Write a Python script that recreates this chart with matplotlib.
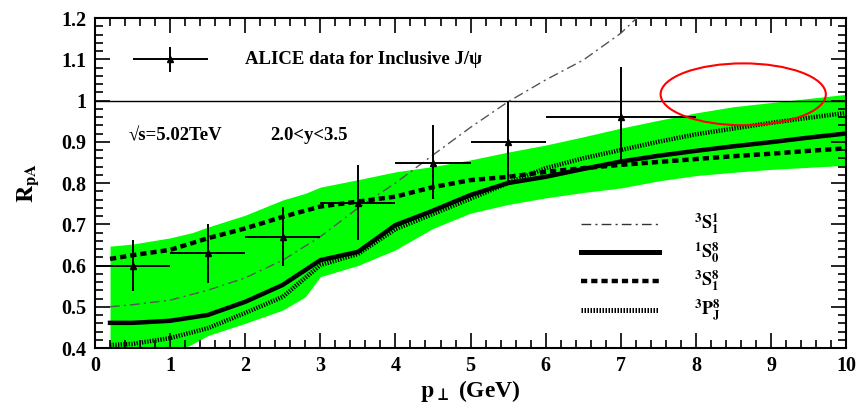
import numpy as np
import matplotlib
matplotlib.use("Agg")
import matplotlib.pyplot as plt
from matplotlib.patches import Ellipse
from matplotlib.ticker import MultipleLocator

plt.rcParams['font.family'] = ['Liberation Serif', 'DejaVu Serif']
plt.rcParams['font.weight'] = 'bold'
plt.rcParams['mathtext.fontset'] = 'stix'

# theory curves
pt = [0.2, 0.5, 1, 1.5, 2, 2.5, 3, 3.5, 4, 4.5, 5, 5.5, 6, 6.5, 7, 7.5, 8, 8.5, 9, 9.5, 10]
s10_8 = [0.461, 0.461, 0.466, 0.48, 0.512, 0.553, 0.613, 0.633, 0.698, 0.733, 0.771, 0.80,
         0.815, 0.834, 0.852, 0.866, 0.878, 0.889, 0.899, 0.91, 0.92]
s31_8 = [0.616, 0.625, 0.638, 0.666, 0.69, 0.718, 0.743, 0.755, 0.767, 0.79, 0.807, 0.815,
         0.827, 0.836, 0.844, 0.851, 0.858, 0.865, 0.871, 0.878, 0.884]
p3j_8 = [0.407, 0.41, 0.424, 0.448, 0.485, 0.524, 0.601, 0.628, 0.688, 0.725, 0.762, 0.80,
         0.836, 0.86, 0.88, 0.9, 0.918, 0.932, 0.946, 0.958, 0.97]
pt_s11 = [0.2, 0.5, 1, 1.5, 2, 2.5, 3, 3.5, 4, 4.5, 5, 5.5, 6, 6.5, 7, 7.5]
s31_1 = [0.50, 0.505, 0.516, 0.54, 0.57, 0.613, 0.67, 0.739, 0.80, 0.868, 0.935, 0.997,
         1.05, 1.098, 1.163, 1.25]

# green uncertainty band
pt_band = [0.2, 0.5, 1, 1.3, 1.5, 2, 2.5, 2.8, 3, 3.5, 4, 4.5, 5, 5.5, 6, 6.5, 7, 7.5, 8, 8.5, 9, 9.5, 10]
band_hi = [0.647, 0.652, 0.667, 0.68, 0.693, 0.722, 0.759, 0.775, 0.79, 0.808, 0.827, 0.84, 0.856,
           0.875, 0.892, 0.912, 0.933, 0.952, 0.97, 0.985, 0.995, 1.005, 1.015]
band_lo = [0.37, 0.37, 0.385, 0.41, 0.43, 0.46, 0.492, 0.524, 0.573, 0.60, 0.638, 0.69, 0.727,
           0.748, 0.764, 0.777, 0.788, 0.805, 0.818, 0.826, 0.833, 0.838, 0.843]

# ALICE data
data_x = [0.5, 1.5, 2.5, 3.5, 4.5, 5.5, 7]
data_y = [0.60, 0.63, 0.668, 0.751, 0.848, 0.90, 0.959]
err_up = [0.062, 0.07, 0.075, 0.093, 0.093, 0.10, 0.123]
err_dn = [0.061, 0.072, 0.068, 0.089, 0.087, 0.10, 0.103]
xerr = [0.5, 0.5, 0.5, 0.5, 0.5, 0.5, 1.0]

fig = plt.figure(figsize=(8.59, 4.15), dpi=100)
ax = fig.add_axes([0.1106, 0.1614, 0.8744, 0.7952])

ax.fill_between(pt_band, band_lo, band_hi, color='#00ff00', lw=0, zorder=1)
ax.axhline(1.0, color='black', lw=1.0, zorder=2)

ax.plot(pt_s11, s31_1, color='#555555', lw=1.0, dashes=(7, 3, 1.5, 3), zorder=3)
ax.plot(pt, s10_8, color='black', lw=3.2, zorder=4)
ax.plot(pt, s31_8, color='black', lw=3.2, dashes=(1.4, 0.9), zorder=4)
ax.plot(pt, p3j_8, color='black', lw=3.2, dashes=(0.3, 0.3), zorder=4)

ax.errorbar(data_x, data_y, yerr=[err_dn, err_up], xerr=xerr, fmt='^', ms=4,
            color='black', ecolor='black', elinewidth=1.4, capsize=0, zorder=5)
# legend entry for the data
ax.errorbar([1.0], [1.1], yerr=[[0.03], [0.03]], xerr=[[0.5], [0.5]], fmt='^', ms=4,
            color='black', elinewidth=1.4, capsize=0, zorder=5)
ax.text(2.0, 1.1, 'ALICE data for Inclusive J/\u03c8', fontsize=13.5, fontweight='bold',
        va='center', ha='left')
ax.text(0.45, 0.915, '\u221as=5.02TeV', fontsize=13.5, fontweight='bold', va='center')
ax.text(2.33, 0.915, '2.0<y<3.5', fontsize=13.5, fontweight='bold', va='center')

# line legend
leg_x = [6.47, 7.51]
ax.plot(leg_x, [0.70, 0.70], color='#333333', lw=1.0, dashes=(7, 3, 1.5, 3))
ax.plot(leg_x, [0.632, 0.632], color='black', lw=3.6)
ax.plot(leg_x, [0.562, 0.562], color='black', lw=3.2, dashes=(1.4, 0.9))
ax.plot(leg_x, [0.492, 0.492], color='black', lw=3.6, dashes=(0.3, 0.3))
labels = [r'$^{\mathbf{3}}\mathbf{S}_{\mathbf{1}}^{\mathbf{1}}$',
          r'$^{\mathbf{1}}\mathbf{S}_{\mathbf{0}}^{\mathbf{8}}$',
          r'$^{\mathbf{3}}\mathbf{S}_{\mathbf{1}}^{\mathbf{8}}$',
          r'$^{\mathbf{3}}\mathbf{P}_{\mathbf{J}}^{\mathbf{8}}$']
for lab, yy in zip(labels, [0.70, 0.632, 0.562, 0.492]):
    ax.text(7.97, yy, lab, fontsize=13, va='center', ha='left')

ax.add_patch(Ellipse((8.63, 1.015), 2.2, 0.15, fill=False, edgecolor='red', lw=1.5, zorder=6))

ax.set_xlim(0, 10)
ax.set_ylim(0.4, 1.2)
ax.xaxis.set_major_locator(MultipleLocator(1))
ax.xaxis.set_minor_locator(MultipleLocator(0.2))
ax.yaxis.set_minor_locator(MultipleLocator(0.02))
ax.set_yticks(np.arange(0.4, 1.21, 0.1))
ax.set_yticklabels(['0.4', '0.5', '0.6', '0.7', '0.8', '0.9', '1', '1.1', '1.2'])
ax.tick_params(which='both', direction='in', top=True, right=True, width=1.2, labelsize=14.5)
ax.tick_params(which='major', length=11, pad=6)
ax.tick_params(which='minor', length=5.5)
for lab in ax.get_xticklabels() + ax.get_yticklabels():
    lab.set_fontweight('bold')
for sp in ax.spines.values():
    sp.set_linewidth(1.5)

ax.set_xlabel(r'$\mathbf{p}_{\bot}$ (GeV)', fontsize=17, fontweight='bold', labelpad=1)
ax.set_ylabel(r'$\mathbf{R}_{\mathbf{pA}}$', fontsize=17, fontweight='bold')
ax.yaxis.set_label_coords(-0.072, 0.5)

fig.savefig('out.png', dpi=100)
